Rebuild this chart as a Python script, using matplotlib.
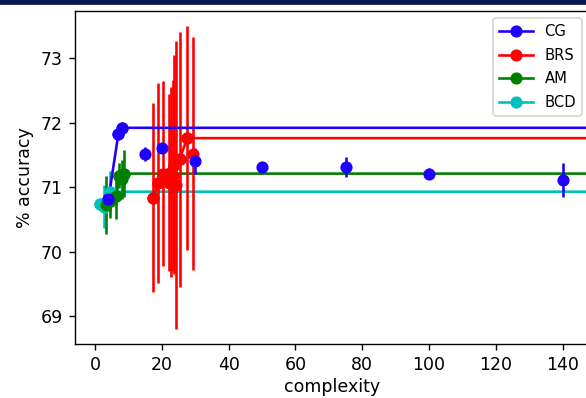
import matplotlib
matplotlib.use('Agg')
import matplotlib.pyplot as plt
from matplotlib.patches import Rectangle

# methods in legend order
methods = ['CG', 'BRS', 'AM', 'BCD']
colors = ['#1f00ff', 'r', 'g', 'c']

cg_x = [4, 7, 8, 15, 20, 30, 50, 75, 100, 140]
cg_acc = [70.81, 71.83, 71.92, 71.51, 71.61, 71.41, 71.31, 71.31, 71.21, 71.11]
cg_err = [0.04, 0.03, 0.03, 0.11, 0.03, 0.20, 0.08, 0.15, 0.09, 0.26]

brs_x = [17.5, 19.0, 20.3, 22.0, 22.7, 23.2, 23.5, 24.1, 25.3, 27.6, 29.3]
brs_acc = [70.84, 71.07, 71.21, 71.07, 71.08, 71.18, 71.35, 71.04, 71.43, 71.76, 71.52]
brs_err = [1.47, 1.55, 1.43, 1.37, 1.47, 1.48, 1.70, 2.23, 1.98, 1.74, 1.80]

am_x = [3.3, 4.5, 6.4, 7.3, 8.0, 8.7]
am_acc = [70.72, 70.78, 70.86, 71.18, 71.12, 71.21]
am_err = [0.45, 0.25, 0.35, 0.20, 0.30, 0.36]

bcd_x = [1.5, 2.3, 2.8, 4.5]
bcd_acc = [70.74, 70.72, 70.70, 70.93]
bcd_err = [0.04, 0.06, 0.33, 0.32]

x_end = 160  # frontier runs on past the right edge


def frontier(x, y):
    # best accuracy seen so far, walking up in complexity
    fx, fy = [], []
    best = -1
    for xi, yi in sorted(zip(x, y)):
        if yi > best:
            fx.append(xi)
            fy.append(yi)
            best = yi
    fx.append(x_end)
    fy.append(best)
    return fx, fy


data = {
    'CG': (cg_x, cg_acc, cg_err),
    'BRS': (brs_x, brs_acc, brs_err),
    'AM': (am_x, am_acc, am_err),
    'BCD': (bcd_x, bcd_acc, bcd_err),
}

fig = plt.figure(figsize=(586 / 125, 398 / 125), dpi=125)
ax = fig.add_axes([75 / 586, 54 / 398, (589.5 - 75) / 586, (344 - 11) / 398])

handles = {}
for name, c in zip(methods[::-1], colors[::-1]):
    x, y, e = data[name]
    ax.errorbar(x, y, yerr=e, fmt='o', color=c)
    fx, fy = frontier(x, y)
    handles[name], = ax.plot(fx, fy, 'o-', color=c, label=name)

ax.set_xlim(-6, 148.05)
ax.set_ylim(68.57, 73.73)
ax.set_xticks([0, 20, 40, 60, 80, 100, 120, 140])
ax.set_yticks([69, 70, 71, 72, 73])
ax.set_xlabel('complexity', labelpad=2)
ax.set_ylabel('% accuracy')
ax.legend(handles=[handles[m] for m in methods], loc='upper right',
          fontsize=8.5, handlelength=2.3, labelspacing=0.58)

# dark strip along the top of the screenshot
fig.patches.append(Rectangle((0, 1 - 3.5 / 398), 1, 3.5 / 398, transform=fig.transFigure,
                             color='#0a1650', zorder=10))

fig.savefig('out.png', dpi=125)
